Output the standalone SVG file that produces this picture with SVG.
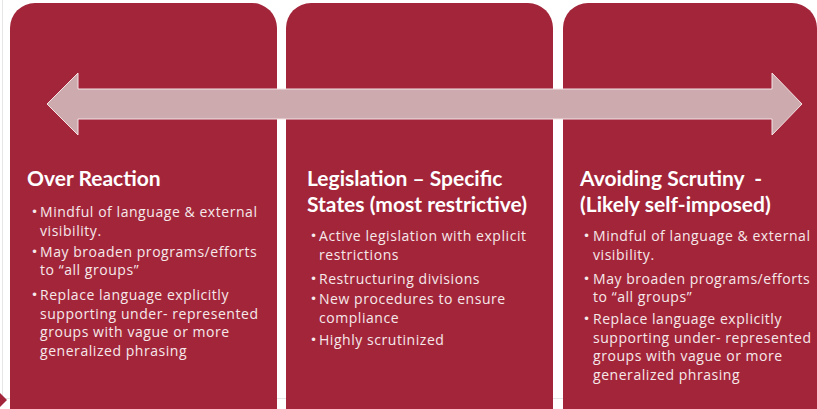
<svg xmlns="http://www.w3.org/2000/svg" width="817" height="409" viewBox="0 0 817 409">
<style>
.box{fill:#a3253a;}
.title{font-family:"Lato","Open Sans",sans-serif;font-weight:bold;font-size:21px;fill:#ffffff;}
.body{font-family:"Open Sans","Lato",sans-serif;font-size:14px;fill:#f6e9ea;letter-spacing:0.55px;}
.bul{font-family:"DejaVu Sans",sans-serif;font-size:12px;fill:#f6e9ea;}
</style>
<rect x="0" y="0" width="817" height="409" fill="#ffffff"/>
<line x1="2.5" y1="0" x2="2.5" y2="396" stroke="#e6e6e6" stroke-width="1"/>
<line x1="0" y1="398.5" x2="817" y2="398.5" stroke="#e6e6e6" stroke-width="1"/>
<path d="M0,393 L7,400 L0,407 Z" fill="#a3253a"/>
<g id="node-over-reaction">
<rect class="box" x="10" y="3" width="267" height="432" rx="25"/>
<text class="title" x="27" y="186">Over Reaction</text>
<text class="bul" x="31" y="216">•</text>
<text class="body" x="40" y="217">Mindful of language &amp; external</text>
<text class="body" x="40" y="236">visibility.</text>
<text class="bul" x="31" y="256">•</text>
<text class="body" x="40" y="257">May  broaden programs/efforts</text>
<text class="body" x="40" y="275">to “all groups”</text>
<text class="bul" x="31" y="299">•</text>
<text class="body" x="40" y="300">Replace language explicitly</text>
<text class="body" x="40" y="319">supporting under- represented</text>
<text class="body" x="40" y="337">groups with vague or more</text>
<text class="body" x="40" y="356">generalized phrasing</text>
</g>
<g id="node-legislation">
<rect class="box" x="286" y="3" width="267" height="432" rx="25"/>
<text class="title" x="307" y="186">Legislation – Specific</text>
<text class="title" x="307" y="212">States (most restrictive)</text>
<text class="bul" x="310" y="240">•</text>
<text class="body" x="319" y="241">Active legislation with explicit</text>
<text class="body" x="319" y="260">restrictions</text>
<text class="bul" x="310" y="283">•</text>
<text class="body" x="319" y="284">Restructuring divisions</text>
<text class="bul" x="310" y="303">•</text>
<text class="body" x="319" y="304">New procedures to ensure</text>
<text class="body" x="319" y="323">compliance</text>
<text class="bul" x="310" y="344">•</text>
<text class="body" x="319" y="345">Highly scrutinized</text>
</g>
<g id="node-avoiding-scrutiny">
<rect class="box" x="563" y="3" width="254" height="432" rx="25"/>
<text class="title" x="580" y="186" xml:space="preserve">Avoiding Scrutiny  -</text>
<text class="title" x="580" y="212">(Likely self-imposed)</text>
<text class="bul" x="583" y="240">•</text>
<text class="body" x="593" y="241">Mindful of language &amp; external</text>
<text class="body" x="593" y="260">visibility.</text>
<text class="bul" x="583" y="283">•</text>
<text class="body" x="593" y="284">May  broaden programs/efforts</text>
<text class="body" x="593" y="302">to “all groups”</text>
<text class="bul" x="583" y="323">•</text>
<text class="body" x="593" y="324">Replace language explicitly</text>
<text class="body" x="593" y="343">supporting under- represented</text>
<text class="body" x="593" y="361">groups with vague or more</text>
<text class="body" x="593" y="380">generalized phrasing</text>
</g>
<g id="connectors">
<path d="M47,104 L78,73 L78,89 L772,89 L772,73 L802,104 L772,135 L772,119 L78,119 L78,135 Z" fill="#cdaaae" stroke="#f3e3e4" stroke-width="1"/>
</g>
</svg>
